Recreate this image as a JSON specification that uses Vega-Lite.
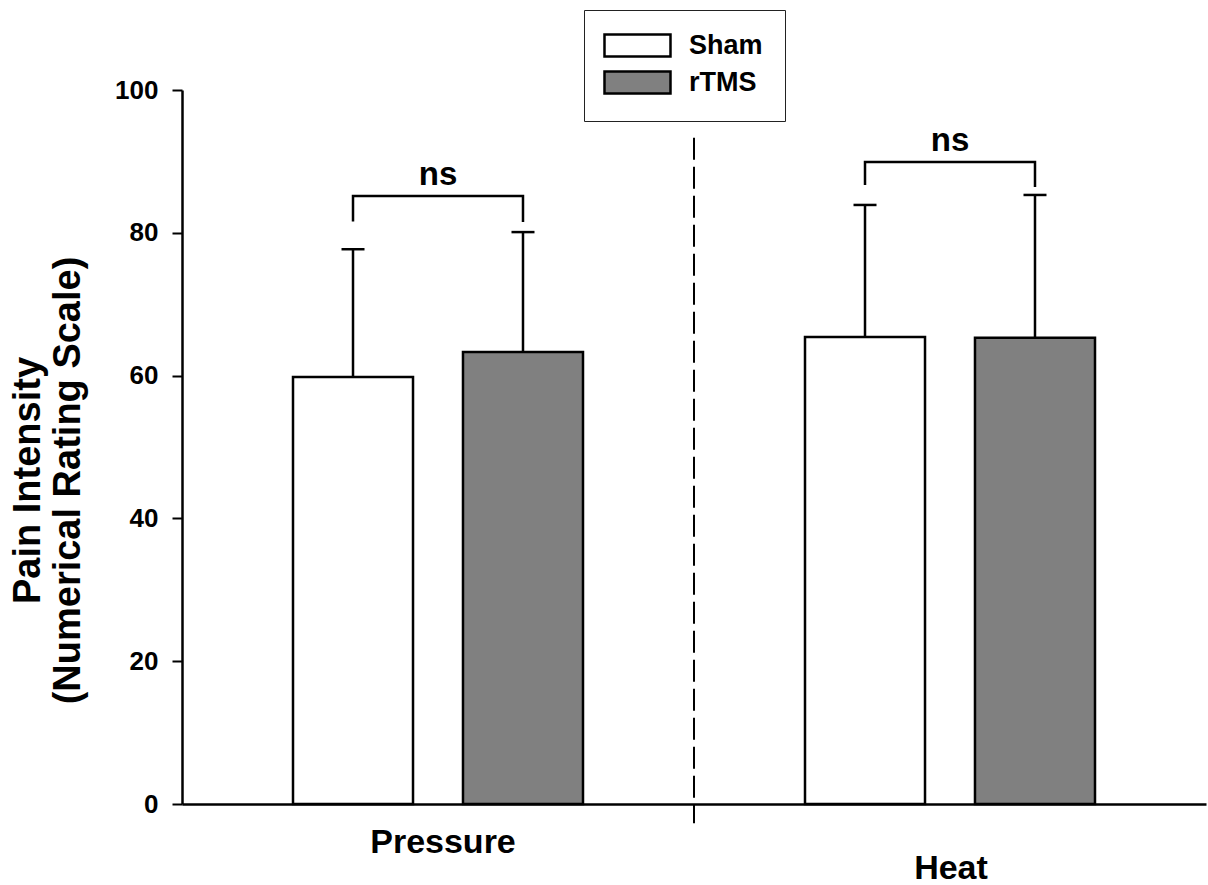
{
  "$schema": "https://vega.github.io/schema/vega-lite/v6.json",
  "width": 1024,
  "height": 714,
  "autosize": {"type": "none"},
  "padding": {"left": 182, "top": 90, "right": 2, "bottom": 81},
  "background": "white",
  "config": {
    "view": {"stroke": null},
    "font": "Liberation Sans",
    "axis": {"labelFont": "Liberation Sans", "titleFont": "Liberation Sans", "labelColor": "black", "titleColor": "black", "domainColor": "black", "tickColor": "black"}
  },
  "datasets": {
    "bars": [
      {"group": "Pressure", "cond": "Sham", "mean": 59.8, "upper": 77.7},
      {"group": "Pressure", "cond": "rTMS", "mean": 63.3, "upper": 80.1},
      {"group": "Heat", "cond": "Sham", "mean": 65.4, "upper": 83.9},
      {"group": "Heat", "cond": "rTMS", "mean": 65.3, "upper": 85.3}
    ],
    "brackets": [
      {"group": "Pressure", "cond": "Sham", "y": 81.6, "order": 1},
      {"group": "Pressure", "cond": "Sham", "y": 85.15, "order": 2},
      {"group": "Pressure", "cond": "rTMS", "y": 85.15, "order": 3},
      {"group": "Pressure", "cond": "rTMS", "y": 81.5, "order": 4},
      {"group": "Heat", "cond": "Sham", "y": 86.7, "order": 1},
      {"group": "Heat", "cond": "Sham", "y": 89.9, "order": 2},
      {"group": "Heat", "cond": "rTMS", "y": 89.9, "order": 3},
      {"group": "Heat", "cond": "rTMS", "y": 86.4, "order": 4}
    ],
    "sig": [
      {"group": "Pressure", "y": 85.15, "label": "ns"},
      {"group": "Heat", "y": 89.9, "label": "ns"}
    ]
  },
  "layer": [
    {
      "data": {"values": [{"group": "Heat"}]},
      "mark": {"type": "rule", "color": "black", "strokeWidth": 2, "strokeDash": [22, 7]},
      "encoding": {
        "x": {"field": "group", "type": "nominal", "bandPosition": 0},
        "y": {"datum": 93.3},
        "y2": {"datum": -2.7}
      }
    },
    {
      "data": {"name": "bars"},
      "mark": {"type": "bar", "stroke": "black", "strokeWidth": 2.5, "opacity": 1},
      "encoding": {
        "x": {
          "field": "group", "type": "nominal", "sort": ["Pressure", "Heat"],
          "scale": {"domain": ["Pressure", "Heat"], "paddingInner": 0, "paddingOuter": 0},
          "axis": {
            "title": null,
            "labelAngle": 0,
            "labelAlign": "center",
            "labelBaseline": "top",
            "labelFontSize": 34,
            "labelFontWeight": "bold",
            "ticks": false,
            "domainWidth": 2.5,
            "labelPadding": {"condition": {"test": "datum.value === 'Heat'", "value": 47}, "value": 21},
            "labelOffset": {"condition": {"test": "datum.value === 'Pressure'", "value": 5}, "value": 1}
          }
        },
        "xOffset": {
          "field": "cond", "type": "nominal",
          "scale": {"domain": ["Sham", "rTMS"], "paddingInner": 0.294, "paddingOuter": 0.653}
        },
        "y": {
          "field": "mean", "type": "quantitative",
          "scale": {"domain": [0, 100], "nice": false},
          "axis": {
            "values": [0, 20, 40, 60, 80, 100],
            "grid": false,
            "tickSize": 10,
            "tickWidth": 2,
            "domainWidth": 2.5,
            "labelFontSize": 26,
            "labelFontWeight": "bold",
            "labelPadding": 14,
            "title": ["Pain Intensity", "(Numerical Rating Scale)"],
            "titleFontSize": 38,
            "titleFontWeight": "bold",
            "titleLineHeight": 40,
            "titlePadding": 27,
            "titleY": 390
          }
        },
        "color": {
          "field": "cond", "type": "nominal",
          "scale": {"domain": ["Sham", "rTMS"], "range": ["#ffffff", "#808080"]},
          "legend": {
            "title": null,
            "orient": "none",
            "legendX": 402,
            "legendY": -80,
            "strokeColor": "#222222",
            "padding": 22,
            "fillColor": "white",
            "symbolType": "M-1.364,-1H4.636V1H-1.364Z",
            "symbolSize": 484,
            "symbolStrokeColor": "black",
            "symbolStrokeWidth": 2.5,
            "symbolOpacity": 1,
            "labelFontSize": 27,
            "labelFontWeight": "bold",
            "labelColor": "black",
            "labelOffset": 56,
            "rowPadding": 4
          }
        }
      }
    },
    {
      "data": {"name": "bars"},
      "mark": {"type": "rule", "color": "black", "strokeWidth": 2.5},
      "encoding": {
        "x": {"field": "group", "type": "nominal"},
        "xOffset": {"field": "cond", "type": "nominal"},
        "y": {"field": "mean", "type": "quantitative"},
        "y2": {"field": "upper"}
      }
    },
    {
      "data": {"name": "bars"},
      "mark": {"type": "tick", "color": "black", "thickness": 2.5, "size": 23, "orient": "horizontal", "opacity": 1},
      "encoding": {
        "x": {"field": "group", "type": "nominal"},
        "xOffset": {"field": "cond", "type": "nominal"},
        "y": {"field": "upper", "type": "quantitative"}
      }
    },
    {
      "data": {"name": "brackets"},
      "mark": {"type": "line", "color": "black", "strokeWidth": 2.5, "strokeJoin": "miter"},
      "encoding": {
        "x": {"field": "group", "type": "nominal"},
        "xOffset": {"field": "cond", "type": "nominal"},
        "y": {"field": "y", "type": "quantitative"},
        "detail": {"field": "group"},
        "order": {"field": "order", "type": "quantitative"}
      }
    },
    {
      "data": {"name": "sig"},
      "mark": {"type": "text", "fontSize": 33, "fontWeight": "bold", "color": "black", "baseline": "alphabetic", "dy": -11},
      "encoding": {
        "x": {"field": "group", "type": "nominal"},
        "y": {"field": "y", "type": "quantitative"},
        "text": {"field": "label"}
      }
    }
  ]
}
